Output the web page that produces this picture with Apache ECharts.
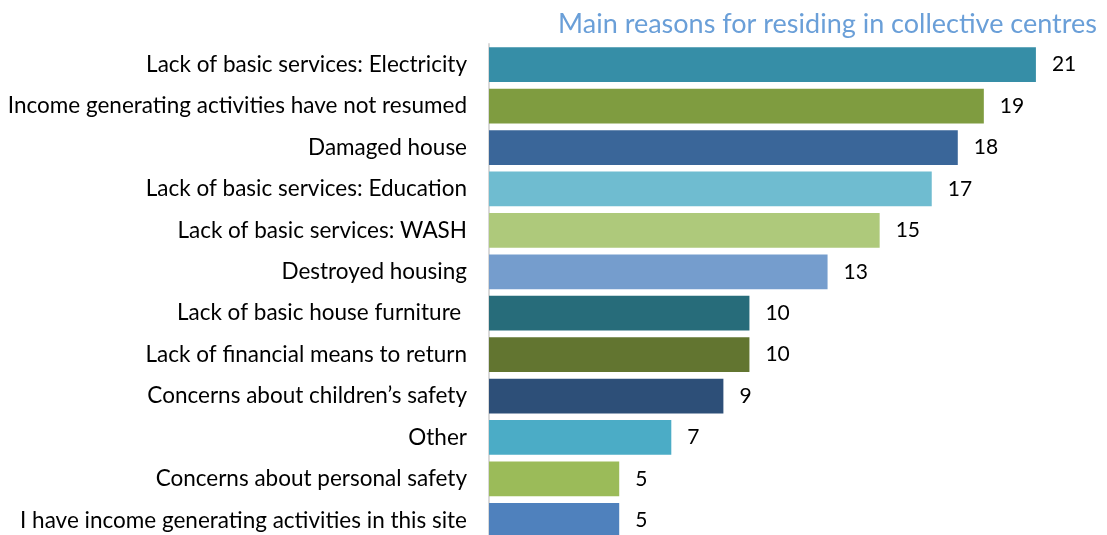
<!DOCTYPE html>
<html>
<head>
<meta charset="utf-8">
<script src="https://cdn.jsdelivr.net/npm/echarts@6/dist/echarts.min.js"></script>
<style>
  html, body { margin: 0; padding: 0; background: #fff; }
  #chart { width: 1107px; height: 535px; }
</style>
</head>
<body>
<div id="chart"></div>
<script>
// categories top to bottom
const reasons = [
  'Lack of basic services: Electricity',
  'Income generating activities have not resumed',
  'Damaged house',
  'Lack of basic services: Education',
  'Lack of basic services: WASH',
  'Destroyed housing',
  'Lack of basic house furniture ',
  'Lack of financial means to return',
  'Concerns about children\u2019s safety',
  'Other',
  'Concerns about personal safety',
  'I have income generating activities in this site'
]
const counts = [21, 19, 18, 17, 15, 13, 10, 10, 9, 7, 5, 5]
const barColors = [
  '#368ea7', '#7f9c40', '#3a6699', '#6fbcd0', '#aec97b', '#759dcd',
  '#276c7a', '#627530', '#2d4f78', '#4bacc6', '#9bbb59', '#4f81bd'
]

const chart = echarts.init(document.getElementById('chart'))

const font = 'Lato'

chart.setOption({
  animation: false,
  title: {
    text: 'Main reasons for residing in collective centres',
    right: 5,
    top: 6,
    textStyle: {
      color: '#6a9fd8',
      fontFamily: font,
      fontWeight: 'normal',
      fontSize: 27
    }
  },
  grid: {
    left: 489,
    width: 599,
    top: 44,
    height: 497,
    outerBoundsMode: 'none'
  },
  xAxis: {
    type: 'value',
    min: 0,
    max: 23,
    show: false
  },
  yAxis: {
    type: 'category',
    inverse: true,
    data: reasons,
    axisLine: { lineStyle: { color: '#d9d9d9', width: 2 } },
    axisTick: { show: false },
    axisLabel: {
      color: '#000',
      fontFamily: font,
      fontSize: 22.5,
      margin: 22
    }
  },
  series: [{
    type: 'bar',
    data: counts.map((v, i) => ({ value: v, itemStyle: { color: barColors[i] } })),
    barCategoryGap: '16%',
    label: {
      show: true,
      position: 'right',
      distance: 16,
      color: '#000',
      fontFamily: font,
      fontSize: 21
    }
  }]
})
</script>
</body>
</html>
